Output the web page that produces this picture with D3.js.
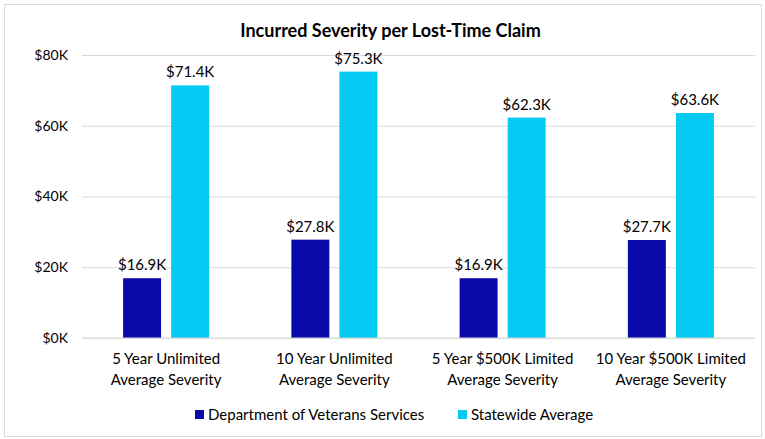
<!DOCTYPE html>
<html>
<head>
<meta charset="utf-8">
<script src="https://cdn.jsdelivr.net/npm/d3@7"></script>
<style>
  body { margin: 0; background: #fff; }
  svg { display: block; font-family: Lato, "Open Sans", sans-serif; }
</style>
</head>
<body>
<div class="chart"></div>
<script>
const categories = [
  ['5 Year Unlimited', 'Average Severity'],
  ['10 Year Unlimited', 'Average Severity'],
  ['5 Year $500K Limited', 'Average Severity'],
  ['10 Year $500K Limited', 'Average Severity']
]
const seriesNames = ['Department of Veterans Services', 'Statewide Average']
const veterans = [16.9, 27.8, 16.9, 27.7]
const statewide = [71.4, 75.3, 62.3, 63.6]
const yTicks = [0, 20, 40, 60, 80]

const colors = ['#0A0AA9', '#03CAF2']

const W = 765, H = 439
const margin = {top: 55, right: 10, bottom: 101, left: 82}
const width = W - margin.left - margin.right
const height = H - margin.top - margin.bottom

const svg = d3.select('.chart').append('svg')
  .attr('width', W)
  .attr('height', H)

svg.append('rect')
  .attr('x', 4.5).attr('y', 4.5)
  .attr('width', W - 8).attr('height', H - 7)
  .attr('fill', '#fff')
  .attr('stroke', '#d9d9d9')

svg.append('text')
  .attr('x', W / 2 + 8).attr('y', 37)
  .attr('text-anchor', 'middle')
  .attr('font-weight', 'bold')
  .attr('font-size', 18)
  .attr('fill', '#000')
  .text('Incurred Severity per Lost-Time Claim')

const g = svg.append('g')
  .attr('transform', 'translate(' + margin.left + ',' + margin.top + ')')

const x = d3.scaleBand()
  .domain(d3.range(categories.length))
  .range([0, width])
const xInner = d3.scaleBand()
  .domain([0, 1])
  .range([x.bandwidth() / 2 - 43, x.bandwidth() / 2 + 43])
  .paddingInner(0.21)
  .paddingOuter(0)
const y = d3.scaleLinear()
  .domain([0, 80])
  .range([height, 0])

// grid
g.append('g')
  .call(d3.axisLeft(y).tickValues(yTicks).tickSize(-width).tickFormat(d => '$' + d + 'K'))
  .call(a => a.select('.domain').remove())
  .call(a => a.selectAll('.tick line').attr('stroke', '#d9d9d9'))
  .call(a => a.selectAll('.tick text')
    .attr('x', -14).attr('font-size', 14).attr('fill', '#000')
    .attr('font-family', 'Lato, sans-serif'))

const data = categories.map((c, i) => ({ i, vals: [veterans[i], statewide[i]] }))

const groups = g.selectAll('.grp')
  .data(data)
  .enter().append('g')
  .attr('transform', d => 'translate(' + x(d.i) + ',0)')

groups.selectAll('rect')
  .data(d => d.vals)
  .enter().append('rect')
  .attr('x', (v, j) => xInner(j))
  .attr('width', xInner.bandwidth())
  .attr('y', v => y(v))
  .attr('height', v => height - y(v))
  .attr('fill', (v, j) => colors[j])

groups.selectAll('.lbl')
  .data(d => d.vals)
  .enter().append('text')
  .attr('x', (v, j) => xInner(j) + xInner.bandwidth() / 2)
  .attr('y', v => y(v) - 8)
  .attr('text-anchor', 'middle')
  .attr('font-size', 15)
  .attr('fill', '#000')
  .text(v => '$' + v.toFixed(1) + 'K')

// x axis
const xAxis = g.append('g')
  .attr('transform', 'translate(0,' + height + ')')
xAxis.append('line')
  .attr('x1', 0).attr('x2', width)
  .attr('stroke', '#d9d9d9')
xAxis.selectAll('text')
  .data(categories)
  .enter().append('text')
  .attr('x', (d, i) => x(i) + x.bandwidth() / 2)
  .attr('y', 26)
  .attr('text-anchor', 'middle')
  .attr('font-size', 15)
  .attr('fill', '#000')
  .each(function(d) {
    d3.select(this).selectAll('tspan')
      .data(d)
      .enter().append('tspan')
      .attr('x', d3.select(this).attr('x'))
      .attr('dy', (t, k) => k === 0 ? 0 : 21)
      .text(t => t)
  })

// legend
const legend = svg.append('g').attr('transform', 'translate(0,415)')
const legendX = [195, 458]
seriesNames.forEach((name, i) => {
  legend.append('rect')
    .attr('x', legendX[i]).attr('y', -5)
    .attr('width', 9).attr('height', 9)
    .attr('fill', colors[i])
  legend.append('text')
    .attr('x', legendX[i] + 13).attr('y', 5)
    .attr('font-size', 15)
    .attr('fill', '#000')
    .text(name)
})
</script>
</body>
</html>
